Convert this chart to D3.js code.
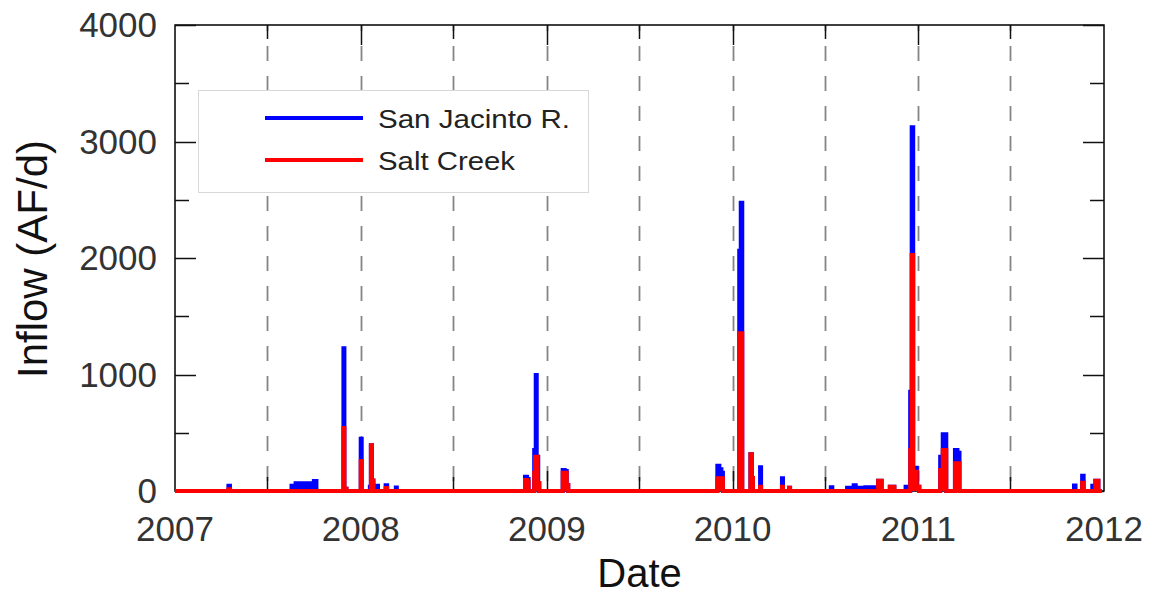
<!DOCTYPE html>
<html>
<head>
<meta charset="utf-8">
<script src="https://cdn.jsdelivr.net/npm/d3@7"></script>
<style>
  html, body { margin: 0; padding: 0; background: #fff; }
  svg { display: block; }
  text { font-family: "Liberation Sans", Arial, sans-serif; }
</style>
</head>
<body>
<svg id="chart" width="1151" height="597"></svg>
<script>
// Daily inflow records, step-wise: each value holds until the next entry.
const sanJacinto = [
  ["2007-01-01", 0], ["2007-04-16", 45], ["2007-04-19", 0],
  ["2007-08-18", 45], ["2007-08-26", 66], ["2007-10-01", 86], ["2007-10-06", 0],
  ["2007-11-28", 1225], ["2007-11-30", 20], ["2007-12-04", 0],
  ["2008-01-01", 448], ["2008-01-03", 0],
  ["2008-01-19", 37], ["2008-01-21", 392], ["2008-01-23", 90], ["2008-01-26", 0],
  ["2008-02-02", 45], ["2008-02-04", 0], ["2008-02-19", 50], ["2008-02-22", 0],
  ["2008-03-10", 30], ["2008-03-12", 0],
  ["2008-11-19", 123], ["2008-11-23", 103], ["2008-11-26", 0],
  ["2008-12-07", 352], ["2008-12-10", 996], ["2008-12-12", 295], ["2008-12-15", 69], ["2008-12-17", 0],
  ["2009-02-01", 180], ["2009-02-05", 172], ["2009-02-09", 52], ["2009-02-12", 0],
  ["2009-12-02", 217], ["2009-12-06", 186], ["2009-12-10", 157], ["2009-12-13", 0],
  ["2010-01-14", 2063], ["2010-01-17", 2475], ["2010-01-20", 0],
  ["2010-02-05", 315], ["2010-02-08", 112], ["2010-02-10", 0],
  ["2010-02-24", 203], ["2010-02-26", 0],
  ["2010-04-08", 109], ["2010-04-10", 0], ["2010-04-22", 28], ["2010-04-24", 0],
  ["2010-07-13", 32], ["2010-07-16", 0],
  ["2010-08-14", 28], ["2010-08-27", 49], ["2010-08-31", 28], ["2010-09-12", 0],
  ["2010-09-19", 32], ["2010-10-14", 88], ["2010-10-21", 0],
  ["2010-11-06", 37], ["2010-11-08", 0], ["2010-11-13", 37], ["2010-11-15", 0],
  ["2010-12-07", 37], ["2010-12-09", 0],
  ["2010-12-16", 853], ["2010-12-19", 3122], ["2010-12-22", 37],
  ["2010-12-26", 200], ["2010-12-29", 37], ["2011-01-03", 0],
  ["2011-02-13", 295], ["2011-02-18", 487], ["2011-02-25", 0],
  ["2011-03-14", 352], ["2011-03-19", 329], ["2011-03-23", 0],
  ["2011-11-03", 48], ["2011-11-06", 0], ["2011-11-19", 131], ["2011-11-22", 0],
  ["2011-12-09", 45], ["2011-12-11", 0], ["2011-12-15", 88], ["2011-12-21", 0]
];

const saltCreek = [
  ["2007-01-01", 0], ["2007-04-16", 15], ["2007-04-19", 0],
  ["2007-11-28", 540], ["2007-11-30", 20], ["2007-12-04", 0],
  ["2008-01-01", 258], ["2008-01-03", 0],
  ["2008-01-21", 392], ["2008-01-23", 90], ["2008-01-26", 0],
  ["2008-02-19", 25], ["2008-02-22", 0],
  ["2008-11-19", 94], ["2008-11-23", 80], ["2008-11-26", 0],
  ["2008-12-07", 155], ["2008-12-09", 295], ["2008-12-14", 69], ["2008-12-17", 0],
  ["2009-02-01", 157], ["2009-02-09", 52], ["2009-02-12", 0],
  ["2009-12-02", 109], ["2009-12-13", 0],
  ["2010-01-14", 1354], ["2010-01-20", 0],
  ["2010-02-05", 315], ["2010-02-08", 112], ["2010-02-10", 0],
  ["2010-02-24", 37], ["2010-02-26", 0],
  ["2010-04-08", 37], ["2010-04-10", 0], ["2010-04-22", 28], ["2010-04-24", 0],
  ["2010-10-14", 88], ["2010-10-21", 0],
  ["2010-11-06", 37], ["2010-11-08", 0], ["2010-11-13", 37], ["2010-11-15", 0],
  ["2010-12-16", 352], ["2010-12-19", 2026], ["2010-12-22", 37],
  ["2010-12-26", 166], ["2010-12-29", 37], ["2011-01-03", 0],
  ["2011-02-13", 180], ["2011-02-18", 352], ["2011-02-25", 0],
  ["2011-03-14", 238], ["2011-03-23", 0],
  ["2011-11-19", 71], ["2011-11-22", 0],
  ["2011-12-15", 88], ["2011-12-21", 0], ["2011-12-28", 0]
];

const seriesNames = ["San Jacinto R.", "Salt Creek"];
const seriesColors = ["#0000ff", "#ff0000"];
const yTicks = [0, 1000, 2000, 3000, 4000];
const yMinorTicks = [500, 1500, 2500, 3500];
const xDomain = ["2007-01-01", "2012-01-01"];

const parse = d3.utcParse("%Y-%m-%d");
const svg = d3.select("#chart");

const plotLeft = 175, plotRight = 1104, plotTop = 25, plotBottom = 491;

const x = d3.scaleUtc().domain(xDomain.map(parse)).range([plotLeft, plotRight]);
const y = d3.scaleLinear().domain([0, 4000]).range([plotBottom, plotTop]);

// Half-year marks (Jan 1 and Jul 1) used for grid lines and ticks
const halfYears = x.ticks(d3.utcMonth.every(6))
  .filter(d => +d > +x.domain()[0] && +d < +x.domain()[1]);
const years = x.ticks(d3.utcYear.every(1));

// Dashed vertical grid
svg.append("g").selectAll("line").data(halfYears).join("line")
  .attr("x1", d => Math.round(x(d)) + 0.5).attr("x2", d => Math.round(x(d)) + 0.5)
  .attr("y1", plotTop).attr("y2", plotBottom)
  .attr("stroke", "#858585").attr("stroke-width", 1.8)
  .attr("stroke-dasharray", "15,15").attr("stroke-dashoffset", 9);

// Plot frame
svg.append("rect")
  .attr("x", plotLeft).attr("y", plotTop)
  .attr("width", plotRight - plotLeft).attr("height", plotBottom - plotTop)
  .attr("fill", "none").attr("stroke", "#000").attr("stroke-width", 1.5);

// Inward ticks
const tk = svg.append("g").attr("stroke", "#111").attr("stroke-width", 1.5);
halfYears.forEach(d => {
  const isYear = d.getUTCMonth() === 0;
  const len = isYear ? 20 : 14;
  const xx = Math.round(x(d)) + 0.5;
  tk.append("line").attr("x1", xx).attr("x2", xx).attr("y1", plotTop).attr("y2", plotTop + len);
  tk.append("line").attr("x1", xx).attr("x2", xx).attr("y1", plotBottom).attr("y2", plotBottom - len);
});
yTicks.concat(yMinorTicks).forEach(v => {
  const len = yTicks.includes(v) ? 21 : 14;
  const yy = Math.round(y(v)) + 0.5;
  tk.append("line").attr("x1", plotLeft).attr("x2", plotLeft + len).attr("y1", yy).attr("y2", yy);
  tk.append("line").attr("x1", plotRight).attr("x2", plotRight - len).attr("y1", yy).attr("y2", yy);
});

// Tick labels
svg.append("g").selectAll("text").data(yTicks).join("text")
  .attr("x", 157).attr("y", d => y(d)).attr("dy", "0.35em")
  .attr("text-anchor", "end").attr("font-size", 35).attr("fill", "#333")
  .text(d => d);
svg.append("g").selectAll("text").data(years).join("text")
  .attr("x", d => x(d)).attr("y", 541)
  .attr("text-anchor", "middle").attr("font-size", 35).attr("fill", "#333")
  .text(d3.utcFormat("%Y"));

// Axis titles
svg.append("text").attr("x", x(parse("2009-07-02"))).attr("y", 587)
  .attr("text-anchor", "middle").attr("font-size", 40).attr("fill", "#111")
  .text("Date");
svg.append("text").attr("transform", "translate(47,259) rotate(-90)")
  .attr("text-anchor", "middle").attr("font-size", 42).attr("fill", "#111")
  .text("Inflow (AF/d)");

// Flow series: filled daily steps with a heavy outline
const area = d3.area()
  .x(d => x(parse(d[0])))
  .y0(y(0))
  .y1(d => y(d[1]))
  .curve(d3.curveStepAfter);
const line = d3.line()
  .x(d => x(parse(d[0])))
  .y(d => y(d[1]))
  .curve(d3.curveStepAfter);

[sanJacinto, saltCreek].forEach((s, i) => {
  const g = svg.append("g");
  g.append("path").datum(s)
    .attr("d", area)
    .attr("fill", seriesColors[i]);
  g.append("path").datum(s)
    .attr("d", line)
    .attr("fill", "none")
    .attr("stroke", seriesColors[i])
    .attr("stroke-width", 4)
    .attr("stroke-linejoin", "miter");
});

// Legend
const lg = svg.append("g");
lg.append("rect").attr("x", 198.5).attr("y", 90.5).attr("width", 390).attr("height", 102)
  .attr("fill", "#fff").attr("stroke", "#d8d8d8").attr("stroke-width", 1);
const legendLens = [192, 137];
seriesNames.forEach((name, i) => {
  const ly = 118 + i * 42;
  lg.append("line").attr("x1", 265).attr("x2", 363).attr("y1", ly).attr("y2", ly)
    .attr("stroke", seriesColors[i]).attr("stroke-width", 4);
  lg.append("text").attr("x", 378).attr("y", ly + 10)
    .attr("font-size", 25).attr("fill", "#222")
    .attr("textLength", legendLens[i]).attr("lengthAdjust", "spacingAndGlyphs")
    .text(name);
});
</script>
</body>
</html>
